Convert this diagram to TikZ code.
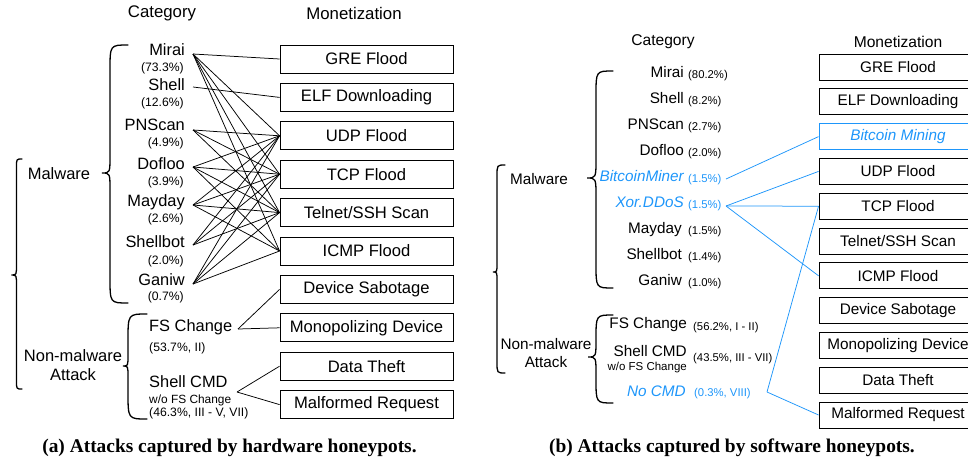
\documentclass[tikz,border=0pt]{standalone}
\usepackage{fontspec}
\setmainfont{Liberation Sans}
\newfontfamily\capfont{Liberation Serif}
\usetikzlibrary{calc}
\definecolor{hblue}{RGB}{30,150,250}
\newcommand\drawbrace[6]{%
 \pgfmathsetmacro\bh{1.4*(#1-(#2))}%
 \pgfmathsetmacro\bk{2.2*(#2-(#3))}%
 \draw[bracestyle] (#1,#4) .. controls (#2,#4) .. (#2,{#4+\bh}) -- (#2,{#5-\bk}) .. controls (#2,#5) .. (#3,#5) .. controls (#2,#5) .. (#2,{#5+\bk}) -- (#2,{#6-\bh}) .. controls (#2,#6) .. (#1,#6);}
\tikzset{
 lbox/.style={draw, line width=0.9pt, minimum width=173pt, minimum height=28pt, inner sep=0pt, font=\fontsize{16.6}{18}\selectfont},
 rbox/.style={draw, line width=0.9pt, minimum width=158pt, minimum height=26pt, inner sep=0pt, font=\fontsize{15.3}{17}\selectfont},
 lname/.style={inner sep=0pt, anchor=mid east, font=\fontsize{16.4}{18}\selectfont},
 lnamew/.style={inner sep=0pt, anchor=mid west, font=\fontsize{16.4}{18}\selectfont},
 lpct/.style={inner sep=0pt, anchor=mid east, font=\fontsize{12.2}{14}\selectfont},
 lpctw/.style={inner sep=0pt, anchor=mid west, font=\fontsize{12.2}{14}\selectfont},
 rname/.style={inner sep=0pt, anchor=mid east, font=\fontsize{15.3}{17}\selectfont},
 rpct/.style={inner sep=0pt, anchor=mid west, font=\fontsize{11.3}{13}\selectfont},
 rsub/.style={inner sep=0pt, anchor=mid east, font=\fontsize{11.5}{13}\selectfont},
 ltitle/.style={inner sep=0pt, font=\fontsize{16.8}{19}\selectfont},
 rtitle/.style={inner sep=0pt, font=\fontsize{15.6}{18}\selectfont},
 lgroup/.style={inner sep=0pt, align=center, font=\fontsize{16.5}{19}\selectfont},
 rgroup/.style={inner sep=0pt, align=center, font=\fontsize{15.3}{18}\selectfont},
 conn/.style={line width=0.75pt},
 bconn/.style={line width=0.75pt, draw=hblue},
 bracestyle/.style={line width=1.3pt, line cap=round},
 capstyle/.style={inner sep=0pt, anchor=mid, font=\capfont\bfseries\fontsize{19.4}{21}\selectfont}
}
\begin{document}
\begin{tikzpicture}[x=1pt,y=-1pt]
\useasboundingbox (0,0) rectangle (968,463);
% ===================== (a) hardware =====================
\node[ltitle] (cata) at (162,13) {Category};
\node[ltitle] (mona) at (354,13) {Monetization};
% boxes
\node[lbox] (gre) at (366.5,59) {GRE Flood};
\node[lbox] (elf) at (366.5,97.4) {ELF Downloading};
\node[lbox] (udp) at (366.5,135.8) {UDP Flood};
\node[lbox] (tcp) at (366.5,174.2) {TCP Flood};
\node[lbox] (tel) at (366.5,212.6) {Telnet/SSH Scan};
\node[lbox] (icmp) at (366.5,251) {ICMP Flood};
\node[lbox] (sab) at (366.5,289.4) {Device Sabotage};
\node[lbox] (mono) at (366.5,327.8) {Monopolizing Device};
\node[lbox] (theft) at (366.5,366.2) {Data Theft};
\node[lbox] (malf) at (366.5,404.6) {Malformed Request};
% malware names
\node[lname] (mirai) at (185,53) {Mirai};
\node[lpct] (miraip) at (184,69) {(73.3\%)};
\node[lname] (shell) at (185,88) {Shell};
\node[lpct] (shellp) at (184,104) {(12.6\%)};
\node[lname] (pnscan) at (185,128) {PNScan};
\node[lpct] (pnscanp) at (184,144) {(4.9\%)};
\node[lname] (dofloo) at (185,167) {Dofloo};
\node[lpct] (doflop) at (184,183) {(3.9\%)};
\node[lname] (mayday) at (185,204) {Mayday};
\node[lpct] (maydayp) at (184,220) {(2.6\%)};
\node[lname] (shellbot) at (185,245) {Shellbot};
\node[lpct] (shellbotp) at (184,262) {(2.0\%)};
\node[lname] (ganiw) at (185,283) {Ganiw};
\node[lpct] (ganiwp) at (184,298) {(0.7\%)};
\coordinate (s-mirai) at (193,54);
\coordinate (s-shell) at (193,87);
\coordinate (s-pnscan) at (193,130);
\coordinate (s-dofloo) at (193,167);
\coordinate (s-mayday) at (193,205);
\coordinate (s-shellbot) at (193,245);
\coordinate (s-ganiw) at (193,284);
\foreach \s/\t in {mirai/gre,mirai/udp,mirai/tcp,mirai/tel,mirai/icmp,
  shell/elf,
  pnscan/udp,pnscan/tcp,pnscan/tel,
  dofloo/udp,dofloo/tcp,dofloo/tel,dofloo/icmp,
  mayday/udp,mayday/tcp,mayday/tel,mayday/icmp,
  shellbot/udp,shellbot/tcp,shellbot/tel,
  ganiw/udp,ganiw/tcp,ganiw/tel,ganiw/icmp}
  \draw[conn] (s-\s) -- (\t.west);
% non-malware
\node[lnamew] (fsa) at (149,329) {FS Change};
\node[lpctw] (fsap) at (149,349) {(53.7\%, II)};
\node[lnamew] (cmda) at (149,385) {Shell CMD};
\node[inner sep=0pt, anchor=mid west, font=\fontsize{11.9}{13}\selectfont] (cmdasub) at (149,401) {w/o FS Change};
\node[lpctw] (cmdap) at (149,414) {(46.3\%, III - V, VII)};
\coordinate (s-fsa) at (238,329);
\coordinate (s-cmda) at (237,392);
\draw[conn] (s-fsa) -- (sab.west);
\draw[conn] (s-fsa) -- (mono.west);
\draw[conn] (s-cmda) -- (theft.west);
\draw[conn] (s-cmda) -- (malf.west);
% groups and braces
\node[lgroup] (malwa) at (59,174) {Malware};
\node[lgroup] (nonmala) at (73,365) {Non-malware\\Attack};
\drawbrace{22}{16.5}{11.5}{159}{275}{389}
\drawbrace{128}{110}{102}{45}{173}{303}
\drawbrace{147}{128}{123}{314}{366}{419}
\node[capstyle] (capa) at (229.5,450) {(a) Attacks captured by hardware honeypots.};
% ===================== (b) software =====================
\node[rtitle] (catb) at (663,42) {Category};
\node[rtitle] (monb) at (898,42) {Monetization};
\node[rbox] (gre2) at (898,67) {GRE Flood};
\node[rbox] (elf2) at (898,101.8) {ELF Downloading};
\node[rbox, draw=hblue, text=hblue, font=\fontsize{15.3}{17}\selectfont\itshape] (btc2) at (898,136.6) {Bitcoin Mining};
\node[rbox] (udp2) at (898,171.4) {UDP Flood};
\node[rbox] (tcp2) at (898,206.2) {TCP Flood};
\node[rbox] (tel2) at (898,241) {Telnet/SSH Scan};
\node[rbox] (icmp2) at (898,275.8) {ICMP Flood};
\node[rbox] (sab2) at (898,310.6) {Device Sabotage};
\node[rbox] (mono2) at (898,345.4) {Monopolizing Device};
\node[rbox] (theft2) at (898,380.2) {Data Theft};
\node[rbox] (malf2) at (898,415) {Malformed Request};
% names
\node[rname] (mirai2) at (684,75) {Mirai};
\node[rpct] (mirai2p) at (688,76) {(80.2\%)};
\node[rname] (shell2) at (684,101) {Shell};
\node[rpct] (shell2p) at (688,102) {(8.2\%)};
\node[rname] (pnscan2) at (684,127) {PNScan};
\node[rpct] (pnscan2p) at (688,128) {(2.7\%)};
\node[rname] (dofloo2) at (684,153) {Dofloo};
\node[rpct] (dofloo2p) at (688,154) {(2.0\%)};
\node[rname, text=hblue, font=\fontsize{15.3}{17}\selectfont\itshape] (btcm) at (684,179) {BitcoinMiner};
\node[rpct, text=hblue] (btcmp) at (688,180) {(1.5\%)};
\node[rname, text=hblue, font=\fontsize{15.3}{17}\selectfont\itshape] (xor) at (684,205) {Xor.DDoS};
\node[rpct, text=hblue] (xorp) at (688,206) {(1.5\%)};
\node[rname] (mayday2) at (682,231) {Mayday};
\node[rpct] (mayday2p) at (688,232) {(1.5\%)};
\node[rname] (shellbot2) at (682,257) {Shellbot};
\node[rpct] (shellbot2p) at (688,258) {(1.4\%)};
\node[rname] (ganiw2) at (682,283) {Ganiw};
\node[rpct] (ganiw2p) at (688,284) {(1.0\%)};
% non-malware
\node[rname] (fsb) at (687,326) {FS Change};
\node[rpct] (fsbp) at (693,328) {(56.2\%, I - II)};
\node[rname] (cmdb) at (687,354) {Shell CMD};
\node[rsub] (cmdbsub) at (687,368) {w/o FS Change};
\node[rpct] (cmdbp) at (693,359) {(43.5\%, III - VII)};
\node[rname, text=hblue, font=\fontsize{15.3}{17}\selectfont\itshape] (nocmd) at (686,394) {No CMD};
\node[rpct, text=hblue] (nocmdp) at (694,394) {(0.3\%, VIII)};
\coordinate (s-btcm) at (726,179);
\coordinate (s-xor) at (726,206);
\coordinate (s-nocmd) at (767,392);
\draw[bconn] (s-btcm) -- (btc2.west);
\draw[bconn] (s-xor) -- (udp2.west);
\draw[bconn] (s-xor) -- (tcp2.west);
\draw[bconn] (s-xor) -- (icmp2.west);
\draw[bconn] (s-nocmd) -- (tcp2.west);
\draw[bconn] (s-nocmd) -- (malf2.west);
% groups and braces
\node[rgroup] (malwb) at (539,179) {Malware};
\node[rgroup] (nonmalb) at (546,353) {Non-malware\\Attack};
\drawbrace{505}{497}{493}{165}{272}{373}
\drawbrace{613}{596}{587}{71}{178}{288}
\drawbrace{613}{596}{588}{315}{357}{403}
\node[capstyle] (capb) at (732,450) {(b) Attacks captured by software honeypots.};
\end{tikzpicture}
\end{document}
